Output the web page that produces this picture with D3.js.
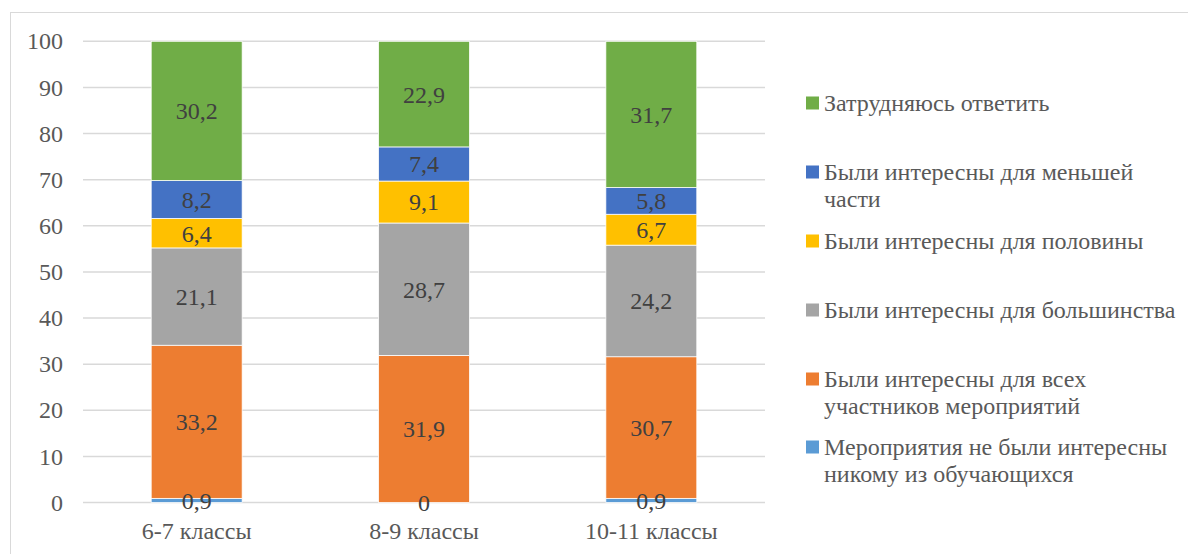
<!DOCTYPE html>
<html><head><meta charset="utf-8">
<script src="https://cdn.jsdelivr.net/npm/d3@7"></script>
<style>body{margin:0;background:#fff}svg{display:block}</style>
</head><body><svg id="c" width="1188" height="554"></svg>
<script>
const categories = ["6-7 классы", "8-9 классы", "10-11 классы"];
const seriesNames = [
  "Мероприятия не были интересны никому из обучающихся",
  "Были интересны для всех участников мероприятий",
  "Были интересны для большинства",
  "Были интересны для половины",
  "Были интересны для меньшей части",
  "Затрудняюсь ответить"
];
const legendLines = [
  ["Мероприятия не были интересны", "никому из обучающихся"],
  ["Были интересны для всех", "участников мероприятий"],
  ["Были интересны для большинства"],
  ["Были интересны для половины"],
  ["Были интересны для меньшей", "части"],
  ["Затрудняюсь ответить"]
];
const colors = ["#5B9BD5", "#ED7D31", "#A5A5A5", "#FFC000", "#4472C4", "#70AD47"];
const valNone   = [0.9, 0, 0.9];
const valAll    = [33.2, 31.9, 30.7];
const valMost   = [21.1, 28.7, 24.2];
const valHalf   = [6.4, 9.1, 6.7];
const valSmall  = [8.2, 7.4, 5.8];
const valUnsure = [30.2, 22.9, 31.7];
const yTicks = [0, 10, 20, 30, 40, 50, 60, 70, 80, 90, 100];

const FONT = "Liberation Serif";
const FS = 24;

const seriesVals = [valNone, valAll, valMost, valHalf, valSmall, valUnsure];
const table = categories.map((c, i) => {
  const o = {cat: c};
  seriesNames.forEach((s, k) => o[s] = seriesVals[k][i]);
  return o;
});
const stacked = d3.stack().keys(seriesNames)(table);

const svg = d3.select("#c");
svg.append("rect").attr("x", 10.5).attr("y", 12.5).attr("width", 1200).attr("height", 600)
  .attr("fill", "none").attr("stroke", "#d9d9d9").attr("stroke-width", 1);

const x = d3.scaleBand().domain(categories).range([83, 765]).paddingInner(0.6).paddingOuter(0.3);
const y = d3.scaleLinear().domain([0, 100]).range([502.5, 41.3]);

const grid = svg.append("g");
grid.selectAll("line").data(yTicks).join("line")
  .attr("x1", 83).attr("x2", 765).attr("y1", d => y(d)).attr("y2", d => y(d))
  .attr("stroke", "#d9d9d9").attr("stroke-width", 1.5);

const yAxis = d3.axisLeft(y).tickValues(yTicks).tickSize(0).tickPadding(0);
const ya = svg.append("g").attr("transform", "translate(63,0)").call(yAxis);
ya.attr("font-family", FONT).attr("font-size", FS);
ya.select(".domain").remove();
ya.selectAll("text").attr("font-family", FONT).attr("font-size", FS).attr("fill", "#595959");

const g = svg.append("g");
stacked.forEach((layer, k) => {
  g.selectAll(null).data(layer).join("rect")
    .attr("x", d => x(d.data.cat)).attr("width", x.bandwidth())
    .attr("y", d => y(d[1])).attr("height", d => Math.max(0, y(d[0]) - y(d[1])))
    .attr("fill", colors[k]).attr("stroke", "#fff").attr("stroke-width", 0.75);
});
stacked.forEach((layer, k) => {
  g.selectAll(null).data(layer).join("text")
    .attr("x", d => x(d.data.cat) + x.bandwidth() / 2)
    .attr("y", d => (y(d[0]) + y(d[1])) / 2)
    .attr("dy", "0.35em").attr("text-anchor", "middle")
    .attr("font-family", FONT).attr("font-size", FS).attr("fill", "#404040")
    .text(d => String(d[1] - d[0] === 0 ? 0 : +(d[1] - d[0]).toFixed(1)).replace(".", ","));
});

const xAxis = d3.axisBottom(x).tickSize(0).tickPadding(0);
const xa = svg.append("g").attr("transform", "translate(0,520)").call(xAxis);
xa.attr("font-family", FONT).attr("font-size", FS);
xa.select(".domain").remove();
xa.selectAll("text").attr("font-family", FONT).attr("font-size", FS).attr("fill", "#595959")
  .attr("dy", "0.35em").attr("y", 11);

const legendTop = [447, 379, 310, 241, 172, 103];
const lg = svg.append("g");
legendLines.forEach((lines, k) => {
  const yy = legendTop[k];
  lg.append("rect").attr("x", 806).attr("y", yy - 6.5).attr("width", 13).attr("height", 13).attr("fill", colors[k]);
  lines.forEach((t, j) => {
    lg.append("text").attr("x", 824).attr("y", yy + j * 27).attr("dy", "0.35em")
      .attr("font-family", FONT).attr("font-size", FS).attr("fill", "#595959").text(t);
  });
});
</script></body></html>
